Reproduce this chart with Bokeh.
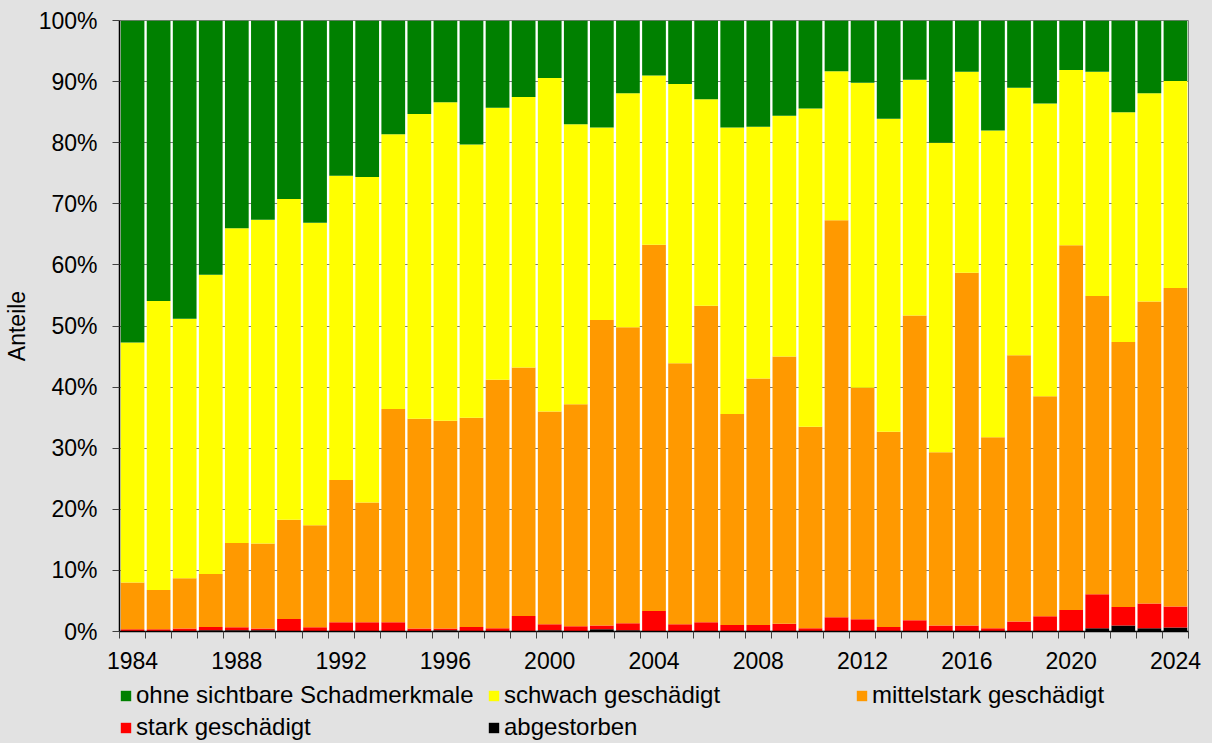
from bokeh.plotting import figure
from bokeh.layouts import column
from bokeh.models import (ColumnDataSource, FixedTicker, PrintfTickFormatter,
                          Legend, LegendItem, Range1d)
from bokeh.embed import file_html
from bokeh.resources import INLINE

# ---------------- data (percent shares per year) ----------------
years = list(range(1984, 2025))

abgestorben = [0.0, 0.0, 0.0, 0.2, 0.2, 0.2, 0.0, 0.0, 0.0, 0.0,
               0.0, 0.0, 0.2, 0.0, 0.0, 0.0, 0.2, 0.0, 0.35, 0.2,
               0.0, 0.0, 0.0, 0.0, 0.0, 0.0, 0.0, 0.0, 0.0, 0.0,
               0.0, 0.0, 0.0, 0.0, 0.0, 0.0, 0.0, 0.55, 1.0, 0.55,
               0.65]
stark = [0.35, 0.35, 0.5, 0.55, 0.5, 0.3, 2.05, 0.7, 1.5, 1.5,
         1.5, 0.5, 0.3, 0.75, 0.55, 2.55, 1.0, 0.85, 0.65, 1.15,
         3.35, 1.2, 1.5, 1.05, 1.05, 1.25, 0.55, 2.35, 2.0, 0.75,
         1.85, 1.0, 1.0, 0.55, 1.65, 2.5, 3.5, 5.55, 3.0, 4.05,
         3.45]
mittelstark = [7.65, 6.45, 8.2, 8.65, 13.8, 13.9, 16.25, 16.7, 23.3, 19.6,
               34.9, 34.3, 34.0, 34.25, 40.65, 40.65, 34.8, 36.35, 50.0, 48.45,
               59.95, 42.7, 51.8, 34.55, 40.35, 43.75, 32.95, 64.95, 37.9, 31.95,
               49.85, 28.35, 57.7, 31.25, 43.55, 36.0, 59.7, 48.8, 43.4, 49.4,
               52.1]
schwach = [39.3, 47.3, 42.5, 49.0, 51.5, 53.0, 52.5, 49.5, 49.8, 53.3,
           45.0, 49.9, 52.1, 44.7, 44.5, 44.3, 54.6, 45.8, 31.5, 38.3,
           27.7, 45.7, 33.8, 46.9, 41.2, 39.4, 52.1, 24.4, 49.9, 51.2,
           38.6, 50.65, 32.9, 50.2, 43.8, 47.9, 28.7, 36.7, 37.6, 34.1,
           33.9]
ohne = [52.7, 45.9, 48.8, 41.6, 34.0, 32.6, 29.2, 33.1, 25.4, 25.6,
        18.6, 15.3, 13.4, 20.3, 14.3, 12.5, 9.4, 17.0, 17.5, 11.9,
        9.0, 10.4, 12.9, 17.5, 17.4, 15.6, 14.4, 8.3, 10.2, 16.1,
        9.7, 20.0, 8.4, 18.0, 11.0, 13.6, 8.1, 8.4, 15.0, 11.9,
        9.9]

x_label_years = [1984, 1988, 1992, 1996, 2000, 2004, 2008, 2012, 2016, 2020, 2024]
y_ticks = [0, 10, 20, 30, 40, 50, 60, 70, 80, 90, 100]

series = ["abgestorben", "stark", "mittelstark", "schwach", "ohne"]
series_labels = {
    "ohne": "ohne sichtbare Schadmerkmale",
    "schwach": "schwach geschädigt",
    "mittelstark": "mittelstark geschädigt",
    "stark": "stark geschädigt",
    "abgestorben": "abgestorben",
}
colors = ["#000000", "#FF0000", "#FF9900", "#FFFF00", "#008000"]
y_axis_title = "Anteile"

# ---------------- main figure ----------------
BG = "#e2e2e2"
FONT = "Liberation Sans"
W = 1212
H_MAIN = 680
H_LEG = 63

src = ColumnDataSource(dict(year=years, abgestorben=abgestorben, stark=stark,
                            mittelstark=mittelstark, schwach=schwach, ohne=ohne))

p = figure(width=W, height=H_MAIN,
           x_range=Range1d(years[0] - 0.5, years[-1] + 0.5),
           y_range=Range1d(0, 100),
           output_backend="svg", toolbar_location=None,
           min_border_left=119, min_border_right=24,
           min_border_top=20, min_border_bottom=49)

p.background_fill_color = "white"
p.border_fill_color = BG
p.outline_line_color = "#7f7f7f"
p.outline_line_width = 1

try:
    from bokeh.models import GlobalInlineStyleSheet
    p.stylesheets = [GlobalInlineStyleSheet(css="html, body { background-color: %s; }" % BG)]
except Exception:
    pass

rs = p.vbar_stack(series, x="year", width=0.91, source=src,
                  fill_color=colors, line_color=None)

# x axis
p.xaxis.ticker = FixedTicker(ticks=x_label_years,
                             minor_ticks=[y - 0.5 for y in years] + [years[-1] + 0.5])
p.xaxis.major_tick_out = 0
p.xaxis.major_tick_in = 0
p.xaxis.minor_tick_out = 7
p.xaxis.minor_tick_in = 0
p.xaxis.minor_tick_line_color = "#404040"
p.xaxis.axis_line_color = "black"
p.xaxis.axis_line_width = 1.5
p.xaxis.major_label_standoff = 13
p.xaxis.major_label_text_font = FONT
p.xaxis.major_label_text_font_size = "23px"
p.xaxis.major_label_text_color = "black"
p.xgrid.visible = False

# y axis
p.yaxis.ticker = FixedTicker(ticks=y_ticks)
p.yaxis.formatter = PrintfTickFormatter(format="%d%%")
p.yaxis.major_tick_out = 7
p.yaxis.major_tick_in = 0
p.yaxis.major_tick_line_color = "#404040"
p.yaxis.minor_tick_out = 0
p.yaxis.minor_tick_in = 0
p.yaxis.minor_tick_line_color = None
p.yaxis.axis_line_color = "black"
p.yaxis.axis_line_width = 1.5
p.yaxis.major_label_standoff = 15
p.yaxis.major_label_text_font = FONT
p.yaxis.major_label_text_font_size = "23px"
p.yaxis.major_label_text_color = "black"
p.yaxis.axis_label = y_axis_title
p.yaxis.axis_label_standoff = 6
p.yaxis.axis_label_text_font = FONT
p.yaxis.axis_label_text_font_size = "23px"
p.yaxis.axis_label_text_font_style = "normal"
p.yaxis.axis_label_text_color = "black"
p.ygrid.ticker = FixedTicker(ticks=y_ticks)
p.ygrid.grid_line_color = "#7a7a7a"
p.ygrid.grid_line_width = 1

# ---------------- legend strip (separate figure below) ----------------
pl = figure(width=W, height=H_LEG, x_range=Range1d(0, 1), y_range=Range1d(0, 1),
            output_backend="svg", toolbar_location=None,
            x_axis_type=None, y_axis_type=None,
            min_border_left=0, min_border_right=0,
            min_border_top=0, min_border_bottom=0)
pl.background_fill_color = BG
pl.border_fill_color = BG
pl.outline_line_color = None
pl.grid.visible = False

# legend proxies: zero-height bars (invisible), only their colours are used
dummy = {}
for k, c in zip(series, colors):
    dummy[k] = pl.vbar(x=[0.5], top=[0], bottom=[0], width=0.1,
                       fill_color=c, line_color=None)

order = ["ohne", "schwach", "mittelstark", "stark", "abgestorben"]
legend = Legend(items=[LegendItem(label=series_labels[k], renderers=[dummy[k]]) for k in order],
                location=(0, 1), orientation="horizontal", ncols=3,
                border_line_color=None, background_fill_alpha=0,
                padding=0, margin=0, spacing=2,
                label_standoff=4, glyph_width=13, glyph_height=13,
                label_width=349, label_height=30,
                label_text_font=FONT, label_text_font_size="24px",
                label_text_color="black")
pl.add_layout(legend)

layout = column(p, pl, spacing=0)
open("out.html", "w").write(file_html(layout, INLINE))
